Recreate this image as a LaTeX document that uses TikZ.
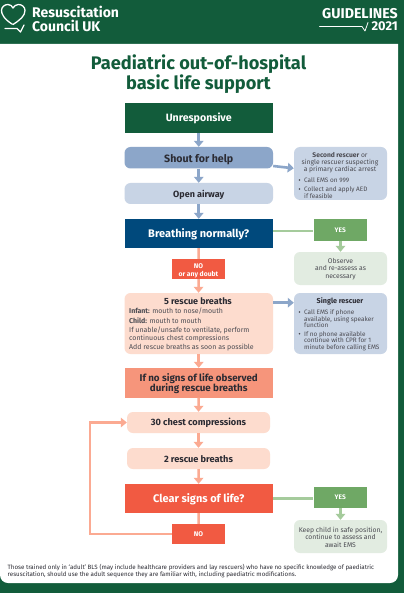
\documentclass[tikz,border=0pt]{standalone}
\usepackage{fontspec}
\setmainfont{Fira Sans}
\usetikzlibrary{arrows.meta}
\definecolor{rcgreen}{HTML}{125C3B}
\definecolor{blue1}{HTML}{8CA6C9}
\definecolor{blue2}{HTML}{C8D4E5}
\definecolor{navy}{HTML}{00497C}
\definecolor{red1}{HTML}{F15A42}
\definecolor{sal}{HTML}{F6957B}
\definecolor{peach}{HTML}{FDDCCE}
\definecolor{arrp}{HTML}{FBAA92}
\definecolor{gr1}{HTML}{6FA865}
\definecolor{gr2}{HTML}{E2ECE1}
\definecolor{gr3}{HTML}{A5CB9C}
\definecolor{ink}{HTML}{2B2B33}
\tikzset{x=1pt,y=-1pt,
 bx/.style={minimum width=#1,inner sep=0pt,align=center,text=ink},
 soft/.style={rounded corners=6pt},
 bluearrow/.style={draw=blue1,line width=2.6pt,-{Triangle[width=9.5pt,length=6pt]}},
 pinkarrow/.style={draw=arrp,line width=2.6pt,-{Triangle[width=9.5pt,length=6pt]}},
 pinkline/.style={draw=arrp,line width=2.6pt},
 greenarrow/.style={draw=gr3,line width=2.6pt,-{Triangle[width=9.5pt,length=6pt]}},
 greenline/.style={draw=gr3,line width=2.6pt},
 small/.style={font=\fontsize{6.4}{6.6}\selectfont,text=ink!85,inner sep=0pt,align=left,anchor=north west},
 five/.style={small,font=\fontsize{7}{7.4}\selectfont},
 bulletdot/.style={circle,fill=ink!85,inner sep=0pt,minimum size=1.7pt},
 lab/.style={font=\fontsize{10.6}{12}\selectfont\bfseries},
 yeslab/.style={fill=gr1,text=white,font=\fontsize{6.6}{8}\selectfont\bfseries},
 nolab/.style={fill=red1,text=white,font=\fontsize{6.8}{7.8}\selectfont\bfseries},
 outcome/.style={fill=gr2,soft,font=\fontsize{6.8}{7.4}\selectfont,text=ink!85},
 stepbig/.style={soft,fill=peach,font=\fontsize{9.2}{10}\selectfont\bfseries},
}
\newcommand{\dn}[1]{\rule{0pt}{#1pt}}
\newcommand{\boxnode}[7]{\node[bx=#4pt-#2pt,minimum height=#5pt-#3pt,lab,#1] (#6) at ({(#2+#4)/2},{(#3+#5)/2}) {#7};}
\begin{document}
\begin{tikzpicture}
\useasboundingbox (0,0) rectangle (404,593);
\fill[rcgreen] (0,0) rectangle (404,593);
\fill[white] (0,44) -- (398,44) [rounded corners=8pt] -- (398,583) -- (0,583) [sharp corners] -- (0,44) -- cycle;
% logo
\draw[white,line width=1.3pt,line join=round,line cap=round]
 (12,24) .. controls (4,19) and (1.5,14) .. (1.5,10.5) .. controls (1.5,7) and (4.5,4.5) .. (8,4.5) .. controls (10.5,4.5) and (12,6) .. (13,8) .. controls (14,6) and (16,4.5) .. (18.5,4.5) .. controls (22,4.5) and (25,7) .. (25,10.5) .. controls (25,16) and (20,20) .. (13,24.5);
\draw[white,line width=1.3pt,line cap=round,line join=round] (5,28.5) -- (17,28.5) -- (20.5,32) -- (24,25);
\node[anchor=west,inner sep=0pt,align=left,text=white,font=\fontsize{14}{14}\selectfont\bfseries] (brand) at (32,18.5) {\dn{11}Resuscitation\\Council UK};
\node[anchor=east,inner sep=0pt,text=white,font=\fontsize{14.2}{12}\selectfont\bfseries] (gl) at (398,14) {GUIDELINES};
\node[anchor=east,inner sep=0pt,text=white,font=\fontsize{12.8}{12}\selectfont\bfseries] (yr) at (398,26.5) {2021};
\draw[white,line width=.8pt,line cap=round,line join=round] (319.5,26.5) -- (362,26.5) -- (365,31) -- (368,22.5);
% title
\node[inner sep=0pt,align=center,text=rcgreen,font=\fontsize{18.2}{18.6}\selectfont\bfseries] (title) at (198.5,74.5) {Paediatric out-of-hospital\\basic life support};
% main boxes
\boxnode{fill=rcgreen,text=white}{124.5}{103}{273}{133}{unresp}{\dn{10}Unresponsive}
\boxnode{fill=blue1,soft}{124.5}{147}{273}{168.5}{shout}{\dn{11}Shout for help}
\boxnode{fill=blue2,soft,font=\fontsize{9}{10}\selectfont\bfseries}{124.5}{183}{273}{204}{airway}{\dn{9.5}Open airway}
\boxnode{fill=navy,text=white,font=\fontsize{11}{12}\selectfont\bfseries}{124.5}{219}{273}{248}{breath}{\dn{11}Breathing normally?}
\boxnode{nolab}{172}{259}{225}{279}{no1}{\dn{8}NO\\or any doubt}
\boxnode{fill=peach,soft}{124.5}{293}{273}{354}{five}{}
\boxnode{fill=sal,font=\fontsize{9.8}{10.2}\selectfont\bfseries}{124.5}{368}{273}{397.5}{ifno}{\dn{9.8}If no signs of life observed\\during rescue breaths}
\boxnode{stepbig}{127}{412}{270}{433}{thirty}{\dn{8.8}30 chest compressions}
\boxnode{stepbig}{127}{448}{270}{469}{two}{\dn{8.8}2 rescue breaths}
\boxnode{fill=red1,text=white,font=\fontsize{11}{12}\selectfont\bfseries}{124.5}{484}{273}{513}{clear}{\dn{10.5}Clear signs of life?}
\boxnode{nolab}{172}{524}{225}{544}{no2}{NO}
% side boxes
\boxnode{fill=blue2,soft}{294}{147}{387}{200}{second}{}
\boxnode{yeslab}{313.5}{219}{367}{241}{yes1}{YES}
\boxnode{outcome}{294}{252}{387}{285}{observe}{\dn{6.4}Observe\\and re-assess as\\necessary}
\boxnode{fill=blue2,soft}{294}{293}{387}{354}{single}{}
\boxnode{yeslab}{313.5}{487}{367}{508}{yes2}{YES}
\boxnode{outcome}{294}{520}{387}{553}{keep}{\dn{6.4}Keep child in safe position,\\continue to assess and\\await EMS}
% text of the five-breaths box
\node[inner sep=0pt,text=ink,font=\fontsize{9}{10}\selectfont\bfseries] (fivet) at (198,301.5) {5 rescue breaths};
\node[five] (inf) at (129,308) {\textbf{Infant:} mouth to nose/mouth};
\node[five] (chi) at (129,317.5) {\textbf{Child:} mouth to mouth};
\node[five] (una) at (129,327) {If unable/unsafe to ventilate, perform\\continuous chest compressions};
\node[five] (add) at (129,344) {Add rescue breaths as soon as possible};
% second rescuer
\node[inner sep=0pt,align=center,text=ink!85,font=\fontsize{6.7}{7.3}\selectfont] (sect) at (340,162.5) {\textbf{Second rescuer} or\\single rescuer suspecting\\a primary cardiac arrest};
\node[bulletdot] (b1m) at (299.5,180) {};
\node[small] (b1) at (304,177.5) {Call EMS on 999};
\node[bulletdot] (b2m) at (299.5,189) {};
\node[small] (b2) at (304,186.5) {Collect and apply AED\\if feasible};
% single rescuer
\node[inner sep=0pt,text=ink,font=\fontsize{7.2}{8}\selectfont\bfseries] (sing) at (340,301) {Single rescuer};
\node[bulletdot] (b3m) at (299.5,312) {};
\node[small] (b3) at (304,309.5) {Call EMS if phone\\available, using speaker\\function};
\node[bulletdot] (b4m) at (299.5,333.7) {};
\node[small] (b4) at (304,331) {If no phone available\\continue with CPR for 1\\minute before calling EMS};
% connectors
\coordinate (s1) at (0,302.7);
\draw[bluearrow] (unresp) -- (shout);
\draw[bluearrow] (shout) -- (airway);
\draw[bluearrow] (airway) -- (breath);
\draw[bluearrow] (shout) -- (second);
\draw[bluearrow] (five.east |- s1) -- (single.west |- s1);
\draw[pinkline] (breath) -- (no1);
\draw[pinkarrow] (no1) -- (five);
\draw[pinkarrow] (five) -- (ifno);
\draw[pinkarrow] (ifno) -- (thirty);
\draw[pinkarrow] (thirty) -- (two);
\draw[pinkarrow] (two) -- (clear);
\draw[pinkline] (clear) -- (no2);
\coordinate (loop) at (90,0);
\draw[draw=arrp,line width=2.6pt,line join=miter,-{Triangle[width=9.5pt,length=6pt]}] (no2.west) -- (loop |- no2.west) -- (loop |- thirty.west) -- (thirty.west);
\coordinate (y1a) at (0,231);
\draw[greenline] (breath.east |- y1a) -- (yes1.west |- y1a);
\draw[greenarrow] (yes1.south -| observe) -- (observe.north);
\coordinate (y2a) at (0,498.5);
\draw[greenline] (clear.east |- y2a) -- (yes2.west |- y2a);
\draw[greenarrow] (yes2.south -| keep) -- (keep.north);
% footnote
\node[inner sep=0pt,align=left,anchor=north west,text=ink,font=\fontsize{6.2}{6.5}\selectfont] (foot) at (7.5,564.5) {Those trained only in ‘adult’ BLS (may include healthcare providers and lay rescuers) who have no specific knowledge of paediatric\\resuscitation, should use the adult sequence they are familiar with, including paediatric modifications.};
\end{tikzpicture}
\end{document}
